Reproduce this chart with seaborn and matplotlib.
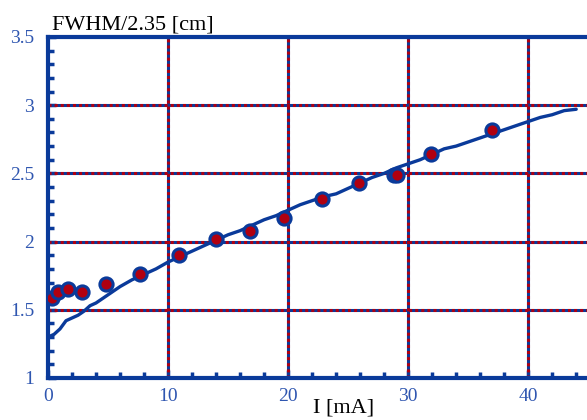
import numpy as np
import pandas as pd
import matplotlib
matplotlib.use("Agg")
import matplotlib.pyplot as plt
from matplotlib.ticker import MultipleLocator
import seaborn as sns

# measured points
meas_i = [0.33, 0.8, 1.7, 2.8, 4.8, 7.7, 10.9, 14.0, 16.8, 19.7, 22.8, 25.9, 28.8, 29.1, 31.9, 37.0]
meas_w = [1.59, 1.63, 1.65, 1.63, 1.69, 1.76, 1.90, 2.02, 2.08, 2.17, 2.31, 2.43, 2.49, 2.49, 2.64, 2.82]

# simulated curve
sim_i = [0, 0.5, 1, 1.5, 2, 2.5, 3, 3.5, 4, 5, 6, 7, 8, 9, 10, 11, 12, 13, 14, 15,
         16, 17, 18, 19, 20, 21, 22, 23, 24, 25, 26, 27, 28, 29, 30, 31, 32, 33, 34,
         35, 36, 37, 38, 39, 40, 41, 42, 43, 44]
sim_w = [1.30, 1.32, 1.36, 1.42, 1.44, 1.46, 1.49, 1.53, 1.55, 1.61, 1.67, 1.72, 1.76,
         1.80, 1.85, 1.89, 1.93, 1.97, 2.01, 2.05, 2.08, 2.12, 2.16, 2.19, 2.23, 2.27,
         2.30, 2.33, 2.35, 2.39, 2.43, 2.47, 2.50, 2.54, 2.57, 2.60, 2.64, 2.68, 2.70,
         2.73, 2.76, 2.79, 2.82, 2.85, 2.88, 2.91, 2.93, 2.96, 2.97]

blue = '#0a3a9a'
red = '#b00010'
lblue = '#2f56b0'

sns.set_style('white')
plt.rcParams['font.family'] = ['Liberation Serif', 'DejaVu Serif']

fig = plt.figure(figsize=(5.87, 4.2), dpi=100)
ax = fig.add_axes([0.0818, 0.1, 0.9182, 0.812])

ax.set_xlim(0, 44.9)
ax.set_ylim(1, 3.5)
ax.xaxis.set_major_locator(MultipleLocator(10))
ax.xaxis.set_minor_locator(MultipleLocator(2))
ax.yaxis.set_major_locator(MultipleLocator(0.5))
ax.yaxis.set_minor_locator(MultipleLocator(0.1))

# grid: blue line with red dashes on top
for v in ax.get_xticks():
    if 0 < v < 44.9:
        ax.axvline(v, color=blue, lw=2.2, zorder=1)
        ax.axvline(v, color=red, lw=2.2, dashes=(1, 1), zorder=1.1)
for v in ax.get_yticks():
    if 1 < v < 3.5:
        ax.axhline(v, color=blue, lw=2.2, zorder=1)
        ax.axhline(v, color=red, lw=2.2, dashes=(1, 1), zorder=1.1)

sns.lineplot(x=sim_i, y=sim_w, ax=ax, color=blue, lw=2.4, zorder=3)
sns.scatterplot(x=meas_i, y=meas_w, ax=ax, s=90, color=red, edgecolor=blue,
                linewidth=2.2, zorder=4)

for s in ['left', 'bottom', 'top']:
    ax.spines[s].set_color(blue)
    ax.spines[s].set_linewidth(3)
ax.spines['right'].set_visible(False)

ax.tick_params(which='both', direction='in', color=blue, width=2.5,
               top=False, right=False, left=True, bottom=True)
ax.tick_params(which='major', length=6, labelsize=14, labelcolor=lblue)
ax.tick_params(which='minor', length=4.5)
ax.tick_params(axis='x', which='major', pad=7)
ax.tick_params(axis='y', which='major', pad=10)
ax.set_yticks([1, 1.5, 2, 2.5, 3, 3.5])
ax.set_yticklabels(['1', '1.5', '2', '2.5', '3', '3.5'])
ax.set_xticks([0, 10, 20, 30, 40])
ax.set_xticklabels(['0', '10', '20', '30', '40'])

fig.text(0.089, 0.93, 'FWHM/2.35 [cm]', fontsize=16, color='black')
fig.text(0.586, 0.017, 'I [mA]', fontsize=16, color='black', ha='center',
         va='baseline')

fig.savefig('out.png', dpi=100)
